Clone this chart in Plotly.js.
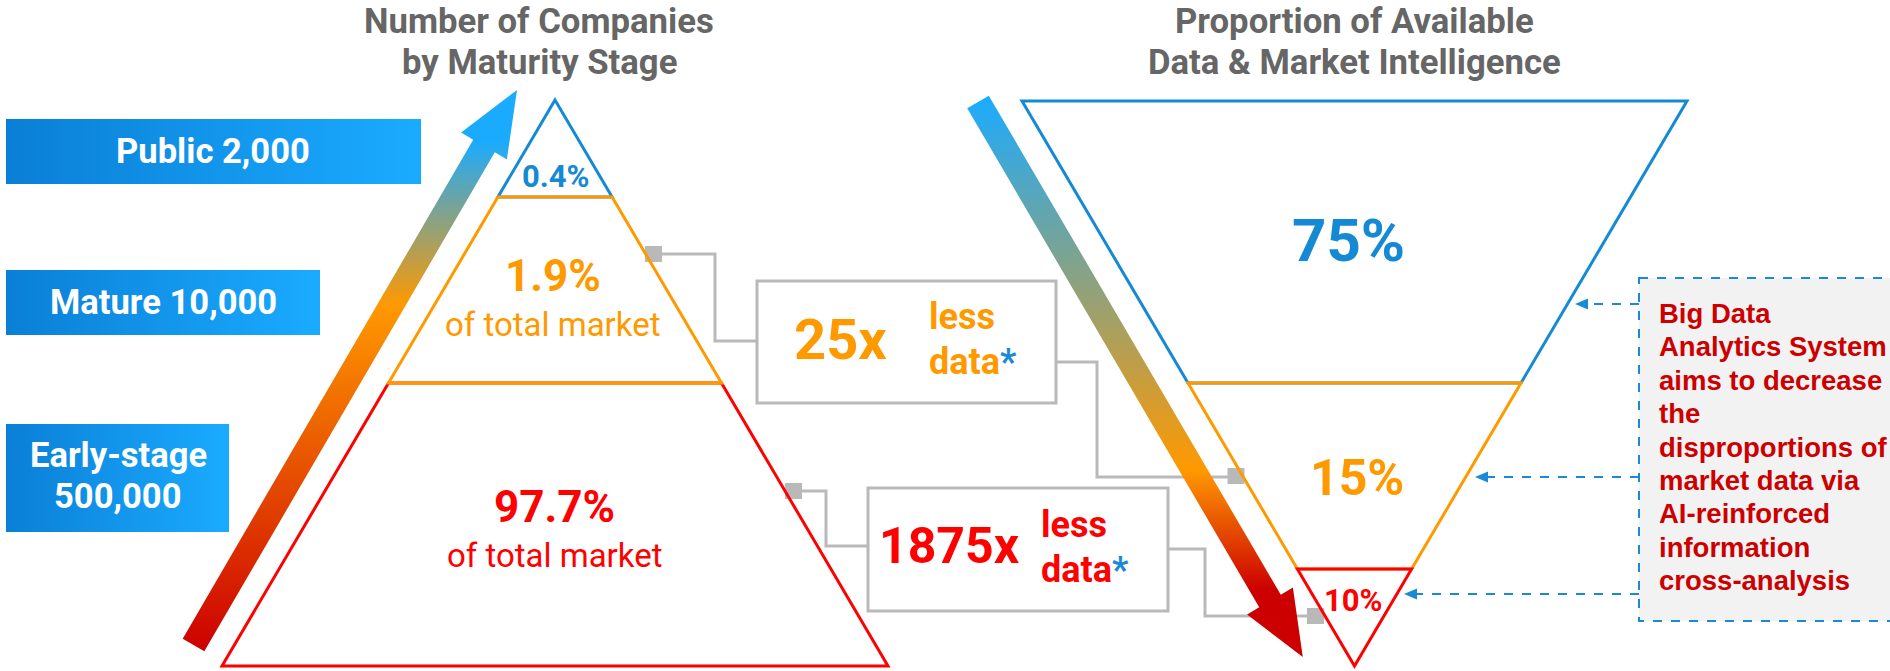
<!DOCTYPE html>
<html><head><meta charset="utf-8">
<script src="https://cdn.plot.ly/plotly-3.0.1.min.js"></script>
<style>html,body{margin:0;padding:0;background:#fff;overflow:hidden}</style>
</head><body><div id="chart" style="width:1890px;height:671px"></div>
<script>
// ---------------- data ----------------
const stages = ['Public', 'Mature', 'Early-stage'];
const companyCounts = [2000, 10000, 500000];
const marketShare = [0.4, 1.9, 97.7];          // % of companies by stage
const dataShare = [75, 15, 10];                // % of available data & market intelligence
const lessDataFactors = [25, 1875];
const leftTitle = ['Number of Companies', 'by Maturity Stage'];
const rightTitle = ['Proportion of Available', 'Data & Market Intelligence'];
const noteLines = ['Big Data', 'Analytics System', 'aims to decrease', 'the', 'disproportions of',
                   'market data via', 'AI-reinforced', 'information', 'cross-analysis'];
const shareSuffix = 'of total market';

// ---------------- styles / geometry ----------------
const W = 1890, H = 671;
const COL = {blue:'#1489d4', orange:'#ff9900', red:'#ff0000', dark:'#cc0000', gray:'#b9b9b9',
             title:'#666666', sky:'#1aabff', deep:'#0a7fd6', note:'#cc0000', star:'#1a8ad4'};
const PYR = {cx:555, top:100, base:666, half:333, cuts:[197,383]};
const FUN = {cx:1354.5, top:101, apex:666, half:332.5, cuts:[383,569]};
const pyrHalf = y => PYR.half*(y-PYR.top)/(PYR.base-PYR.top);
const funHalf = y => FUN.half*(FUN.apex-y)/(FUN.apex-FUN.top);
const path = pts => 'M' + pts.map(p => p[0].toFixed(1)+','+p[1].toFixed(1)).join('L') + 'Z';
const openPath = pts => 'M' + pts.map(p => p[0].toFixed(1)+','+p[1].toFixed(1)).join('L');

const traces = [];
const shapes = [];
const annotations = [];

function gradPoly(pts, type, start, stop, colorscale){
  const xs = pts.map(p=>p[0]); xs.push(pts[0][0]);
  const ys = pts.map(p=>p[1]); ys.push(pts[0][1]);
  traces.push({type:'scatter', mode:'lines', x:xs, y:ys, fill:'toself',
    line:{width:0, color:'rgba(0,0,0,0)'}, fillcolor:colorscale[0][1],
    fillgradient:{type, start, stop, colorscale}, hoverinfo:'skip', showlegend:false});
}
function txt(x, y, text, size, color, weight, xanchor, family){
  annotations.push({x, y, xref:'x', yref:'y', text, showarrow:false,
    font:{family: family || 'Roboto', size, color, weight: weight || 700},
    xanchor: xanchor || 'center', yanchor:'middle', align: xanchor || 'center'});
}

// ---------------- left stage labels ----------------
const labelBoxes = [{x0:6, x1:421, y0:119, y1:184}, {x0:6, x1:320, y0:270, y1:335}, {x0:6, x1:229, y0:424, y1:532}];
const fmt = n => n.toLocaleString('en-US');
labelBoxes.forEach(b => {
  gradPoly([[b.x0,b.y0],[b.x1,b.y0],[b.x1,b.y1],[b.x0,b.y1]], 'horizontal', b.x0, b.x1,
           [[0, COL.deep],[1, COL.sky]]);
});
txt(213, 151, stages[0] + ' ' + fmt(companyCounts[0]), 34.6, '#ffffff');
txt(163, 302, stages[1] + ' ' + fmt(companyCounts[1]), 34.6, '#ffffff');
txt(118, 455, stages[2], 34.6, '#ffffff');
txt(118, 496, fmt(companyCounts[2]), 34.6, '#ffffff');

// ---------------- arrows ----------------
gradPoly([[182.7,638.7],[473.2,139.7],[461.1,132.6],[517,90],[506.9,159.4],[494.8,152.3],[204.3,651.3]],
  'vertical', 652, 90, [[0, COL.dark],[0.617, COL.orange],[0.91, COL.sky],[1, COL.sky]]);
gradPoly([[988.8,95.7],[1280.8,594.7],[1292.9,587.6],[1302.8,657],[1247.1,614.4],[1259.2,607.3],[967.2,108.3]],
  'vertical', 657, 96, [[0, COL.dark],[0.12, COL.dark],[0.333, COL.orange],[1, COL.sky]]);

// ---------------- connectors (below traces) ----------------
const connectors = [
  [[662,254],[715,254],[715,341],[757,341]],
  [[1056,362],[1097,362],[1097,477],[1228,477]],
  [[802,491],[826,491],[826,546],[868,546]],
  [[1168,549],[1205,549],[1205,616],[1307,616]]
];
connectors.forEach(c => shapes.push({type:'path', path:openPath(c), xref:'x', yref:'y', layer:'below',
  line:{color:COL.gray, width:3}}));
[[653.5,254],[1236,476],[793.5,491],[1315.5,616]].forEach(s => shapes.push({type:'rect', xref:'x', yref:'y',
  x0:s[0]-8.5, x1:s[0]+8.5, y0:s[1]-8, y1:s[1]+8, fillcolor:COL.gray, line:{width:0}, layer:'below'}));
shapes.push({type:'rect', xref:'x', yref:'y', x0:757, x1:1056, y0:281, y1:403, fillcolor:'#fff', line:{color:COL.gray, width:3}, layer:'below'});
shapes.push({type:'rect', xref:'x', yref:'y', x0:868, x1:1168, y0:488, y1:611, fillcolor:'#fff', line:{color:COL.gray, width:3}, layer:'below'});

// ---------------- pyramid ----------------
const [p1, p2] = PYR.cuts;
const pyrBands = [
  {pts:[[PYR.cx,PYR.top],[PYR.cx+pyrHalf(p1),p1],[PYR.cx-pyrHalf(p1),p1]], color:COL.blue},
  {pts:[[PYR.cx-pyrHalf(p2),p2],[PYR.cx+pyrHalf(p2),p2],[PYR.cx+PYR.half,PYR.base],[PYR.cx-PYR.half,PYR.base]], color:COL.red},
  {pts:[[PYR.cx-pyrHalf(p1),p1],[PYR.cx+pyrHalf(p1),p1],[PYR.cx+pyrHalf(p2),p2],[PYR.cx-pyrHalf(p2),p2]], color:COL.orange}
];
pyrBands.forEach(b => shapes.push({type:'path', path:path(b.pts), xref:'x', yref:'y', line:{color:b.color, width:3}}));

// ---------------- funnel ----------------
const [f1, f2] = FUN.cuts;
const funBands = [
  {pts:[[FUN.cx-FUN.half,FUN.top],[FUN.cx+FUN.half,FUN.top],[FUN.cx+funHalf(f1),f1],[FUN.cx-funHalf(f1),f1]], color:COL.blue},
  {pts:[[FUN.cx-funHalf(f1),f1],[FUN.cx+funHalf(f1),f1],[FUN.cx+funHalf(f2),f2],[FUN.cx-funHalf(f2),f2]], color:COL.orange},
  {pts:[[FUN.cx-funHalf(f2),f2],[FUN.cx+funHalf(f2),f2],[FUN.cx,FUN.apex]], color:COL.red}
];
funBands.forEach(b => shapes.push({type:'path', path:path(b.pts), xref:'x', yref:'y', line:{color:b.color, width:3}}));

// ---------------- note box + dashed arrows ----------------
shapes.push({type:'rect', xref:'x', yref:'y', x0:1639, x1:1893, y0:278, y1:621, fillcolor:'#f2f2f2',
  line:{color:COL.star, width:2, dash:'dash'}, layer:'below'});
[[304,1575],[477,1475],[594,1404]].forEach(a => {
  const y = a[0], tip = a[1];
  shapes.push({type:'line', xref:'x', yref:'y', x0:1639, x1:tip+10, y0:y, y1:y, line:{color:COL.star, width:2, dash:'dash'}});
  shapes.push({type:'path', xref:'x', yref:'y', path:path([[tip,y],[tip+13,y-5.5],[tip+13,y+5.5]]), fillcolor:COL.star, line:{width:0}});
});
noteLines.forEach((line, i) => txt(1657, 313.5 + 33.4*i, line, 27.5, COL.note, 700, 'left', 'Liberation Sans'));

// ---------------- titles ----------------
txt(539, 21, leftTitle[0], 34.7, COL.title);
txt(539, 62, leftTitle[1], 34.7, COL.title);
txt(1354, 21, rightTitle[0], 34.7, COL.title);
txt(1354, 62, rightTitle[1], 34.7, COL.title);

// ---------------- pyramid texts ----------------
txt(555, 176, marketShare[0] + '%', 31, COL.blue);
txt(553, 276, marketShare[1] + '%', 44, COL.orange);
txt(553, 324, shareSuffix, 33, COL.orange, 400);
txt(554, 507, marketShare[2] + '%', 44, COL.red);
txt(555, 555, shareSuffix, 33, COL.red, 400);

// ---------------- funnel texts ----------------
txt(1348, 240, dataShare[0] + '%', 60, COL.blue);
txt(1357, 478, dataShare[1] + '%', 50, COL.orange);
txt(1353, 600, dataShare[2] + '%', 31, COL.red);

// ---------------- ratio texts ----------------
const star = '<span style="color:' + COL.star + '">*</span>';
txt(840, 340, lessDataFactors[0] + 'x', 56, COL.orange);
txt(927, 317, 'less', 36, COL.orange, 700, 'left');
txt(927, 362, 'data' + star, 36, COL.orange, 700, 'left');
txt(949, 546, lessDataFactors[1] + 'x', 50, COL.red);
txt(1039, 525, 'less', 36, COL.red, 700, 'left');
txt(1039, 570, 'data' + star, 36, COL.red, 700, 'left');

const layout = {
  width: W, height: H, margin:{l:0, r:0, t:0, b:0, pad:0},
  paper_bgcolor:'#ffffff', plot_bgcolor:'#ffffff', showlegend:false,
  xaxis:{range:[0, W], visible:false, fixedrange:true},
  yaxis:{range:[H, 0], visible:false, fixedrange:true},
  shapes, annotations, hovermode:false
};
Plotly.newPlot('chart', traces, layout, {staticPlot:true, displayModeBar:false});
</script></body></html>
